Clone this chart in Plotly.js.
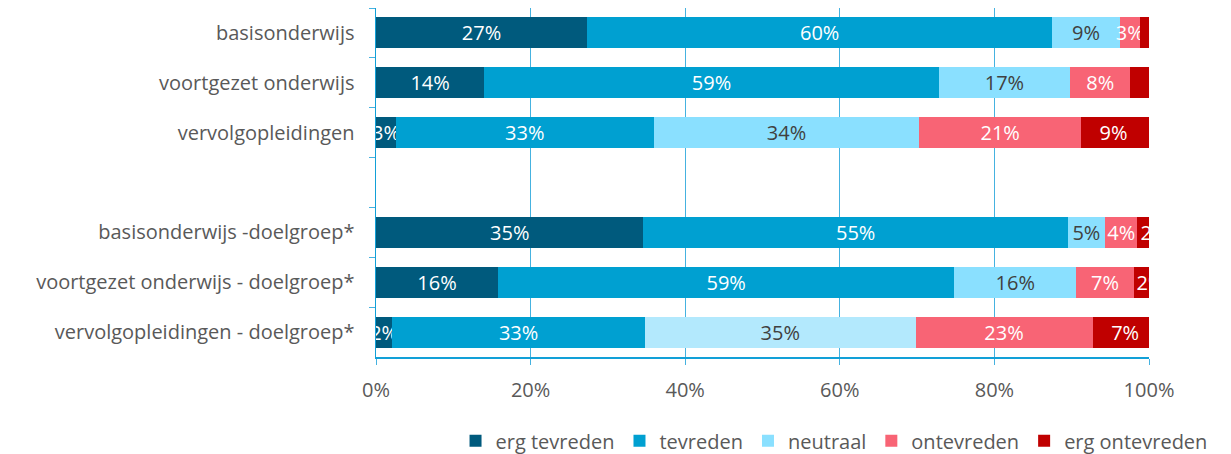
<!DOCTYPE html>
<html>
<head>
<meta charset="utf-8">
<script src="https://cdn.plot.ly/plotly-3.0.1.min.js"></script>
<style>html,body{margin:0;padding:0;background:#fff;}#chart{width:1231px;height:454px;}</style>
</head>
<body>
<div id="chart"></div>
<script>
// Categories, top to bottom (' ' is the empty spacer row)
const categories = [
  'basisonderwijs',
  'voortgezet onderwijs',
  'vervolgopleidingen',
  ' ',
  'basisonderwijs -doelgroep*',
  'voortgezet onderwijs - doelgroep*',
  'vervolgopleidingen - doelgroep*'
];
const seriesNames = ['erg tevreden', 'tevreden', 'neutraal', 'ontevreden', 'erg ontevreden'];

// Percentages per series (same order as categories)
const ergTevreden   = [27.3, 14.0,  2.6, null, 34.6, 15.8,  2.1];
const tevreden      = [60.2, 58.8, 33.3, null, 54.9, 59.0, 32.7];
const neutraal      = [ 8.7, 17.0, 34.4, null,  4.8, 15.8, 35.0];
const ontevreden    = [ 2.6,  7.8, 20.9, null,  4.2,  7.4, 22.9];
const ergOntevreden = [ 1.2,  2.4,  8.8, null,  1.5,  2.0,  7.3];

// Which data labels are shown (the reference omits some)
const ergOntevredenLabelShown = [false, false, true, false, true, true, true];

const xTicks = [0, 20, 40, 60, 80, 100];
const xTickLabels = ['0%', '20%', '40%', '60%', '80%', '100%'];

const colors = ['#005a7d', '#00a0d1', '#8ae0ff', '#f86475', '#c00000'];
const neutraalPointColors = ['#8ae0ff', '#8ae0ff', '#8ae0ff', '#8ae0ff', '#8ae0ff', '#8ae0ff', '#b3e9fd'];
const textColors = ['#ffffff', '#ffffff', '#404040', '#ffffff', '#ffffff'];

const allSeries = [ergTevreden, tevreden, neutraal, ontevreden, ergOntevreden];

function labels(vals, shown, padWide) {
  return vals.map((v, i) => {
    if (v === null || (shown && !shown[i])) return '';
    const t = Math.round(v) + '%';
    // left-anchored labels: pad wider segments so the label sits centred
    return (padWide && v > 5) ? '\u00a0\u00a0\u00a0' + t : t;
  });
}

const FONT = '"Open Sans", "Noto Sans", sans-serif';

const traces = allSeries.map((vals, k) => ({
  type: 'bar',
  orientation: 'h',
  name: seriesNames[k],
  y: categories,
  x: vals,
  text: labels(vals, k === 4 ? ergOntevredenLabelShown : null, k === 4),
  textposition: 'inside',
  insidetextanchor: k === 4 ? 'start' : 'middle',
  textangle: 0,
  constraintext: 'none',
  textfont: {family: FONT, size: 20, color: textColors[k]},
  marker: {color: k === 2 ? neutraalPointColors : colors[k], line: {width: 0}},
  hoverinfo: 'skip',
  cliponaxis: true
}));

const layout = {
  width: 1231,
  height: 454,
  margin: {l: 376, r: 82, t: 8, b: 97},
  paper_bgcolor: '#ffffff',
  plot_bgcolor: '#ffffff',
  barmode: 'stack',
  bargap: 0.38,
  showlegend: true,
  font: {family: FONT, color: '#595959', size: 20},
  xaxis: {
    range: [0, 100],
    tickvals: xTicks,
    ticktext: xTickLabels,
    showgrid: true,
    gridcolor: '#45b2e0',
    gridwidth: 1,
    zeroline: false,
    showline: true,
    linecolor: '#12a0d7',
    linewidth: 1.5,
    ticks: 'outside',
    ticklen: 6,
    tickcolor: '#45b2e0',
    tickfont: {family: FONT, size: 20, color: '#595959'},
    ticklabelstandoff: 8,
    automargin: false,
    fixedrange: true
  },
  yaxis: {
    type: 'category',
    categoryorder: 'array',
    categoryarray: categories,
    autorange: 'reversed',
    tickson: 'boundaries',
    showgrid: false,
    zeroline: false,
    showline: true,
    linecolor: '#12a0d7',
    linewidth: 1.5,
    ticks: 'outside',
    ticklen: 6,
    tickcolor: '#45b2e0',
    tickfont: {family: FONT, size: 20, color: '#595959'},
    ticklabelstandoff: 16,
    automargin: false,
    fixedrange: true
  },
  legend: {
    orientation: 'h',
    xref: 'container',
    yref: 'container',
    x: 0.985,
    xanchor: 'right',
    y: 0.029,
    yanchor: 'middle',
    font: {family: FONT, size: 20, color: '#595959'},
    itemwidth: 30,
    traceorder: 'normal',
    bgcolor: 'rgba(0,0,0,0)'
  }
};

Plotly.newPlot('chart', traces, layout, {displayModeBar: false, staticPlot: true});
</script>
</body>
</html>
